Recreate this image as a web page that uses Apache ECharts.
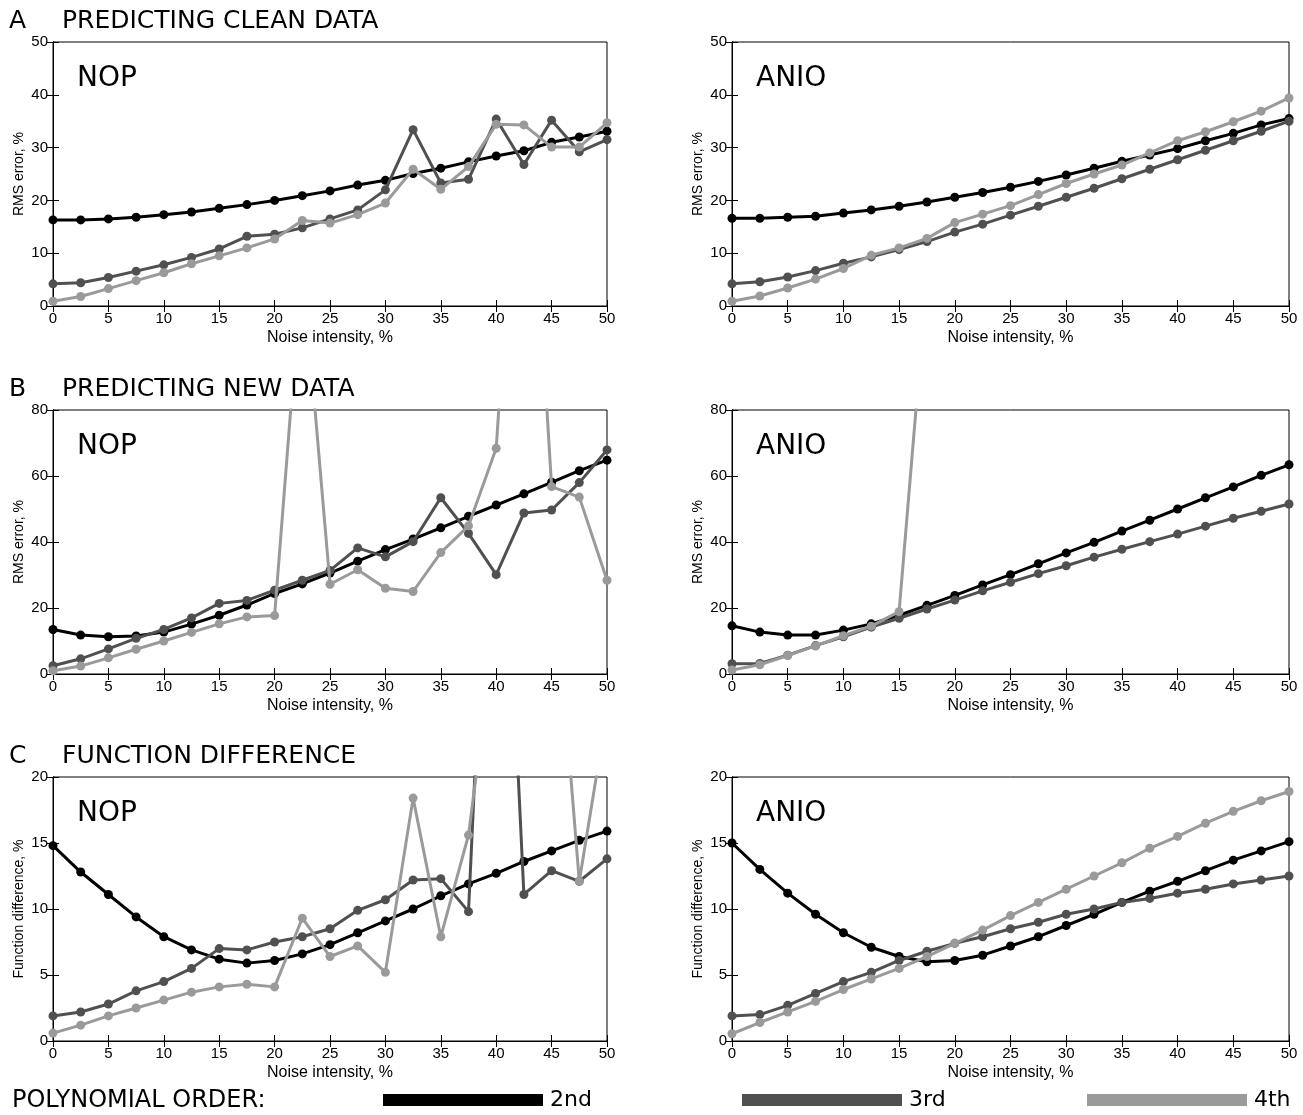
<!DOCTYPE html>
<html>
<head>
<meta charset="utf-8">
<title>Polynomial order: NOP vs ANIO</title>
<script src="https://cdn.jsdelivr.net/npm/echarts@6/dist/echarts.min.js"></script>
<style>
html,body{margin:0;padding:0;background:#fff;}
#main{width:1303px;height:1115px;}
</style>
</head>
<body>
<div id="main"></div>
<script>
// noise intensity (%) - shared x values
var noise = [0, 2.5, 5, 7.5, 10, 12.5, 15, 17.5, 20, 22.5, 25, 27.5, 30, 32.5, 35, 37.5, 40, 42.5, 45, 47.5, 50];

// A - predicting clean data (RMS error, %)
var aNop2  = [16.3, 16.3, 16.5, 16.8, 17.3, 17.8, 18.5, 19.2, 20.0, 20.9, 21.8, 22.9, 23.8, 25.1, 26.1, 27.3, 28.4, 29.4, 31.0, 32.0, 33.1];
var aNop3  = [4.2, 4.4, 5.4, 6.6, 7.8, 9.2, 10.8, 13.2, 13.6, 14.8, 16.5, 18.2, 22.0, 33.4, 23.3, 24.0, 35.4, 26.8, 35.2, 29.2, 31.5];
var aNop4  = [0.9, 1.8, 3.3, 4.8, 6.3, 8.0, 9.5, 11.0, 12.7, 16.2, 15.7, 17.3, 19.5, 25.9, 22.1, 26.4, 34.4, 34.3, 30.1, 30.1, 34.7];
var aAnio2 = [16.6, 16.6, 16.8, 17.0, 17.6, 18.2, 18.9, 19.7, 20.6, 21.5, 22.5, 23.6, 24.8, 26.1, 27.4, 28.6, 29.8, 31.3, 32.7, 34.3, 35.5];
var aAnio3 = [4.2, 4.6, 5.5, 6.7, 8.1, 9.3, 10.7, 12.2, 14.0, 15.5, 17.2, 18.9, 20.6, 22.3, 24.1, 25.9, 27.7, 29.5, 31.3, 33.1, 35.0];
var aAnio4 = [0.9, 1.9, 3.4, 5.1, 7.1, 9.6, 11.0, 12.8, 15.8, 17.4, 19.0, 21.1, 23.2, 25.0, 26.7, 29.0, 31.3, 33.0, 34.9, 36.9, 39.4];

// B - predicting new data (RMS error, %), values above 80 run off the plot
var bNop2  = [13.5, 11.8, 11.3, 11.5, 12.7, 15.1, 17.8, 20.9, 24.4, 27.3, 30.6, 34.2, 37.7, 40.9, 44.3, 47.8, 51.2, 54.6, 58.1, 61.6, 64.8];
var bNop3  = [2.5, 4.6, 7.6, 10.8, 13.5, 17.0, 21.4, 22.3, 25.4, 28.4, 31.4, 38.2, 35.5, 40.1, 53.4, 42.6, 30.1, 48.8, 49.7, 58.0, 67.9];
var bNop4  = [1.0, 2.4, 4.9, 7.5, 10.0, 12.6, 15.2, 17.3, 17.7, 125, 27.2, 31.6, 26.0, 25.0, 36.8, 44.9, 68.4, 195, 56.8, 53.6, 28.4];
var bAnio2 = [14.6, 12.7, 11.8, 11.8, 13.3, 15.2, 17.8, 20.8, 23.8, 27.0, 30.1, 33.4, 36.7, 39.9, 43.3, 46.6, 50.0, 53.4, 56.7, 60.2, 63.4];
var bAnio3 = [3.1, 3.2, 5.7, 8.6, 11.3, 14.2, 16.9, 19.7, 22.4, 25.2, 27.8, 30.4, 32.8, 35.4, 37.8, 40.1, 42.4, 44.8, 47.2, 49.3, 51.5];
var bAnio4 = [1.2, 2.8, 5.6, 8.5, 11.6, 14.5, 18.9, 120, null, null, null, null, null, null, null, null, null, null, null, null, null];

// C - function difference (%)
var cNop2  = [14.8, 12.8, 11.1, 9.4, 7.9, 6.9, 6.2, 5.9, 6.1, 6.6, 7.3, 8.2, 9.1, 10.0, 11.0, 11.9, 12.7, 13.6, 14.4, 15.2, 15.9];
var cNop3  = [1.9, 2.2, 2.8, 3.8, 4.5, 5.5, 7.0, 6.9, 7.5, 7.9, 8.5, 9.9, 10.7, 12.2, 12.3, 9.8, 55, 11.1, 12.9, 12.1, 13.8];
var cNop4  = [0.6, 1.2, 1.9, 2.5, 3.1, 3.7, 4.1, 4.3, 4.1, 9.3, 6.4, 7.2, 5.2, 18.4, 7.9, 15.6, 32, null, 38, 12.1, 25];
var cAnio2 = [15.0, 13.0, 11.2, 9.6, 8.2, 7.1, 6.4, 6.0, 6.1, 6.5, 7.2, 7.9, 8.75, 9.6, 10.5, 11.35, 12.1, 12.9, 13.7, 14.4, 15.1];
var cAnio3 = [1.9, 2.0, 2.7, 3.6, 4.5, 5.2, 6.1, 6.8, 7.4, 7.9, 8.5, 9.0, 9.6, 10.0, 10.5, 10.8, 11.2, 11.5, 11.9, 12.2, 12.5];
var cAnio4 = [0.55, 1.4, 2.2, 3.0, 3.9, 4.7, 5.5, 6.4, 7.4, 8.4, 9.5, 10.5, 11.5, 12.5, 13.5, 14.6, 15.5, 16.5, 17.4, 18.2, 18.9];

var orders = ['2nd', '3rd', '4th'];
var yMax = [50, 80, 20];
var yStep = [10, 20, 5];
var yNames = ['RMS error, %', 'RMS error, %', 'Function difference, %'];
var panelData = [
  [aNop2, aNop3, aNop4], [aAnio2, aAnio3, aAnio4],
  [bNop2, bNop3, bNop4], [bAnio2, bAnio3, bAnio4],
  [cNop2, cNop3, cNop4], [cAnio2, cAnio3, cAnio4]
];

window.onload = function () {
  var myChart = echarts.init(document.getElementById('main'));
  var colors = ['#000000', '#505050', '#9a9a9a'];
  var tickFont = '"Liberation Sans",Arial,sans-serif';
  var bigFont = '"DejaVu Sans",sans-serif';
  var rowTop = [42, 410, 777];
  var colLeft = [53, 732];
  var colWidth = [554, 557];

  var grid = [], xAxis = [], yAxis = [], series = [], graphic = [];

  for (var p = 0; p < 6; p++) {
    var row = Math.floor(p / 2), col = p % 2;
    grid.push({
      left: colLeft[col], top: rowTop[row], width: colWidth[col], height: 264,
      show: true, borderColor: '#000', borderWidth: 1, backgroundColor: 'transparent'
    });
    // bottom x axis
    xAxis.push({
      gridIndex: p, type: 'value', min: 0, max: 50, interval: 5,
      name: 'Noise intensity, %', nameLocation: 'middle', nameGap: 24,
      nameTextStyle: { fontFamily: tickFont, fontSize: 16, color: '#000' },
      axisLine: { show: true, lineStyle: { color: '#000', width: 1 } },
      axisTick: { inside: true, length: 6, lineStyle: { color: '#000' } },
      axisLabel: { fontFamily: tickFont, fontSize: 15, color: '#000', margin: 5 },
      splitLine: { show: false }
    });
    // top x axis (ticks only)
    xAxis.push({
      gridIndex: p, type: 'value', min: 0, max: 50, interval: 5, position: 'top',
      axisLine: { show: true, lineStyle: { color: '#000', width: 1 } },
      axisTick: { inside: true, length: 6, lineStyle: { color: '#000' } },
      axisLabel: { show: false }, splitLine: { show: false }
    });
    yAxis.push({
      gridIndex: p, type: 'value', min: 0, max: yMax[row], interval: yStep[row],
      name: yNames[row], nameLocation: 'middle', nameGap: 27,
      nameTextStyle: { fontFamily: tickFont, fontSize: 14, color: '#000' },
      axisLine: { show: true, lineStyle: { color: '#000', width: 1 } },
      axisTick: { inside: true, length: 6, lineStyle: { color: '#000' } },
      axisLabel: { fontFamily: tickFont, fontSize: 15, color: '#000', margin: 5 },
      splitLine: { show: false }
    });
    yAxis.push({
      gridIndex: p, type: 'value', min: 0, max: yMax[row], interval: yStep[row], position: 'right',
      axisLine: { show: true, lineStyle: { color: '#000', width: 1 } },
      axisTick: { inside: true, length: 6, lineStyle: { color: '#000' } },
      axisLabel: { show: false }, splitLine: { show: false }
    });

    for (var s = 0; s < 3; s++) {
      var vals = panelData[p][s];
      series.push({
        name: orders[s], type: 'line',
        xAxisIndex: 2 * p, yAxisIndex: 2 * p,
        data: noise.map(function (x, i) { return [x, vals[i]]; }),
        clip: true, connectNulls: false,
        symbol: 'circle', symbolSize: 9, showAllSymbol: true,
        lineStyle: { color: colors[s], width: 3 },
        itemStyle: { color: colors[s] },
        emphasis: { disabled: true },
        z: 2 + s
      });
    }

    graphic.push({
      type: 'text', left: colLeft[col] + 24, top: rowTop[row] + 23,
      style: { text: col === 0 ? 'NOP' : 'ANIO', font: '28px ' + bigFont, fill: '#000' }
    });
  }

  var titles = [['A', 'PREDICTING CLEAN DATA'], ['B', 'PREDICTING NEW DATA'], ['C', 'FUNCTION DIFFERENCE']];
  for (var t = 0; t < 3; t++) {
    graphic.push({ type: 'text', left: 9, top: rowTop[t] - 33, style: { text: titles[t][0], font: '25px ' + bigFont, fill: '#000' } });
    graphic.push({ type: 'text', left: 62, top: rowTop[t] - 33, style: { text: titles[t][1], font: '25px ' + bigFont, fill: '#000' } });
  }
  graphic.push({ type: 'text', left: 12, top: 1089, style: { text: 'POLYNOMIAL ORDER:', font: '24px ' + bigFont, fill: '#000' } });

  var legendLeft = [378, 737, 1082];
  var legend = orders.map(function (o, i) {
    return {
      data: [o], left: legendLeft[i], top: 1084, orient: 'horizontal',
      icon: 'rect', itemWidth: 160, itemHeight: 12, itemGap: 0,
      selectedMode: false,
      textStyle: { fontFamily: bigFont, fontSize: 22, color: '#000', padding: [0, 0, 0, 2] }
    };
  });

  var option = {
    backgroundColor: '#fff',
    animation: false,
    grid: grid,
    xAxis: xAxis,
    yAxis: yAxis,
    legend: legend,
    graphic: graphic,
    series: series
  };
  myChart.setOption(option);
};
</script>
</body>
</html>
